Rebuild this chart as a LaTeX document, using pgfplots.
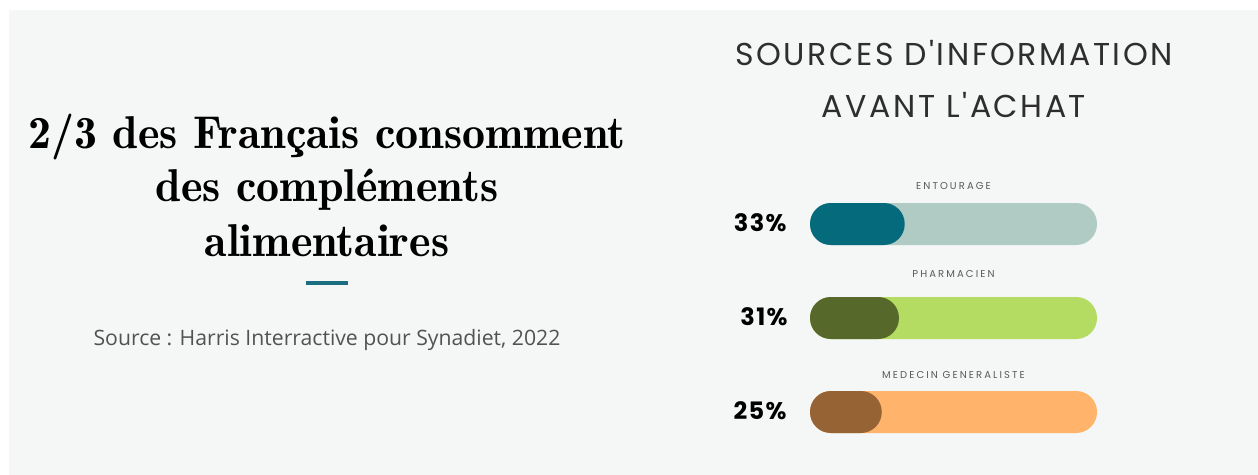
\documentclass[border=0pt]{standalone}
\usepackage{pgfplots}
\pgfplotsset{compat=1.18}
\usepackage{fontspec}
\newfontfamily\popH[LetterSpace=8]{Poppins}
\newfontfamily\popC[LetterSpace=21]{Poppins}
\newfontfamily\popB[LetterSpace=6]{Poppins}
\newfontfamily\srcfont{Open Sans}
\definecolor{bg}{HTML}{F5F7F6}
\definecolor{tealD}{HTML}{046A7C}
\definecolor{tealL}{HTML}{AFCBC4}
\definecolor{greenD}{HTML}{56692B}
\definecolor{greenL}{HTML}{B5DC62}
\definecolor{orD}{HTML}{966335}
\definecolor{orL}{HTML}{FFB36B}
\definecolor{dashcol}{HTML}{1A6E80}
\definecolor{txt}{HTML}{2E2E2E}
\begin{document}
\begin{tikzpicture}[x=0.5pt,y=-0.5pt]
\fill[white] (0,0) rectangle (1258,475);
\fill[bg] (9,10) rectangle (1258,475);
% left title block
\node[anchor=base, inner sep=0pt, font=\fontseries{b}\selectfont\fontsize{23}{26}\selectfont] at (327,149) {2/3 des Français consomment};
\node[anchor=base, inner sep=0pt, font=\fontseries{b}\selectfont\fontsize{23}{26}\selectfont] at (327,202) {des compléments};
\node[anchor=base, inner sep=0pt, font=\fontseries{b}\selectfont\fontsize{23}{26}\selectfont] at (327,257) {alimentaires};
\fill[dashcol] (306,281) rectangle (348,285);
\node[anchor=base, inner sep=0pt, text=black!68, font=\srcfont\fontsize{10.6}{12}\selectfont] at (327,346) {Source : Harris Interractive pour Synadiet, 2022};
% right heading
\node[anchor=base, inner sep=0pt, text=txt, font=\popH\fontsize{15.8}{18}\selectfont] at (954,66) {SOURCES D'INFORMATION};
\node[anchor=base, inner sep=0pt, text=txt, font=\popH\fontsize{15.8}{18}\selectfont] at (954,118) {AVANT L'ACHAT};
\begin{axis}[at={(405pt,-229.5pt)}, anchor=south west, scale only axis,
  width=143.5pt, height=141pt, xmin=0, xmax=100, ymin=0.5, ymax=3.5,
  hide axis, clip=false]
\addplot[xbar, bar shift=0pt, bar width=21pt, fill=tealL, draw=none, rounded corners=10.4pt] coordinates {(100,3)};
\addplot[xbar, bar shift=0pt, bar width=21pt, fill=tealD, draw=none, rounded corners=10.4pt] coordinates {(33,3)};
\addplot[xbar, bar shift=0pt, bar width=21pt, fill=greenL, draw=none, rounded corners=10.4pt] coordinates {(100,2)};
\addplot[xbar, bar shift=0pt, bar width=21pt, fill=greenD, draw=none, rounded corners=10.4pt] coordinates {(31,2)};
\addplot[xbar, bar shift=0pt, bar width=21pt, fill=orL, draw=none, rounded corners=10.4pt] coordinates {(100,1)};
\addplot[xbar, bar shift=0pt, bar width=21pt, fill=orD, draw=none, rounded corners=10.4pt] coordinates {(25,1)};
\node[anchor=base, inner sep=0pt, text=black!65, font=\popC\fontsize{5}{6}\selectfont] at (axis cs:50,3) [yshift=17.5pt] {ENTOURAGE};
\node[anchor=base, inner sep=0pt, text=black!65, font=\popC\fontsize{5}{6}\selectfont] at (axis cs:50,2) [yshift=20.5pt] {PHARMACIEN};
\node[anchor=base, inner sep=0pt, text=black!65, font=\popC\fontsize{5}{6}\selectfont] at (axis cs:50,1) [yshift=17pt] {MEDECIN GENERALISTE};
\node[anchor=east, inner sep=0pt, text=black, font=\popB\bfseries\fontsize{12}{14}\selectfont] at (axis cs:0,3) [xshift=-11.5pt, yshift=0.8pt] {33\%};
\node[anchor=east, inner sep=0pt, text=black, font=\popB\bfseries\fontsize{12}{14}\selectfont] at (axis cs:0,2) [xshift=-11pt, yshift=0.8pt] {31\%};
\node[anchor=east, inner sep=0pt, text=black, font=\popB\bfseries\fontsize{12}{14}\selectfont] at (axis cs:0,1) [xshift=-11.5pt, yshift=0.8pt] {25\%};
\end{axis}
\end{tikzpicture}
\end{document}
